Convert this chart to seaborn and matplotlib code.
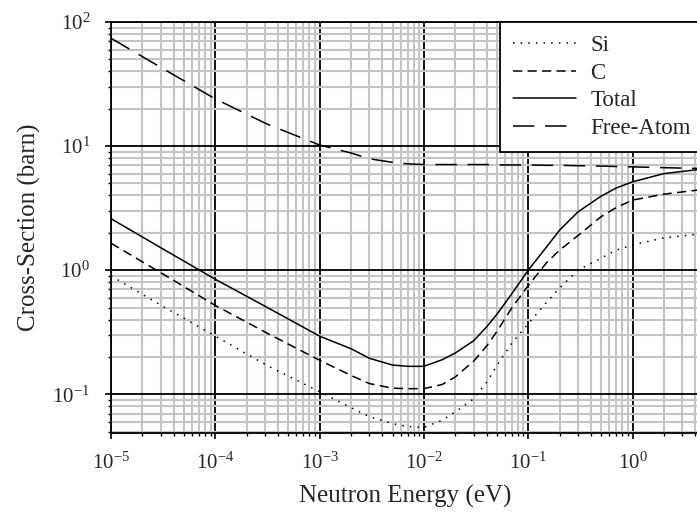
import numpy as np
import pandas as pd
import matplotlib
matplotlib.use("Agg")
import matplotlib.pyplot as plt
import seaborn as sns
from matplotlib.ticker import LogLocator, LogFormatterMathtext, NullFormatter

# values (barn)
energy = [1e-5, 3.16e-5, 1e-4, 3.16e-4, 1e-3, 2e-3, 3e-3, 5e-3, 7e-3, 1e-2,
          1.5e-2, 2e-2, 3e-2, 4e-2, 5e-2, 7e-2, 0.1, 0.15, 0.2, 0.3, 0.5, 0.7,
          1.0, 2.0, 4.5]
si = [0.9, 0.51, 0.294, 0.17, 0.105, 0.078, 0.066, 0.058, 0.055, 0.054,
      0.062, 0.072, 0.092, 0.125, 0.17, 0.26, 0.37, 0.55, 0.72, 1.0, 1.25, 1.45,
      1.6, 1.82, 1.96]
c = [1.65, 0.93, 0.52, 0.31, 0.188, 0.142, 0.122, 0.112, 0.111, 0.111,
     0.12, 0.138, 0.185, 0.245, 0.32, 0.5, 0.75, 1.15, 1.45, 1.9, 2.7, 3.2,
     3.67, 4.1, 4.45]
total = [2.6, 1.48, 0.845, 0.5, 0.294, 0.233, 0.195, 0.172, 0.168, 0.168,
         0.19, 0.215, 0.27, 0.35, 0.44, 0.65, 1.0, 1.54, 2.1, 2.95, 3.95, 4.6,
         5.15, 6.0, 6.5]
free_atom = [74, 42, 24, 15, 10.2, 8.8, 7.9, 7.4, 7.2, 7.1,
             7.1, 7.1, 7.1, 7.1, 7.05, 7.05, 7.05, 7.0, 7.0, 6.95, 6.9, 6.85,
             6.8, 6.7, 6.6]

sns.set_style("ticks")
plt.rcParams["font.family"] = ["Liberation Serif", "DejaVu Serif"]
plt.rcParams["mathtext.fontset"] = "custom"
plt.rcParams["mathtext.rm"] = "Liberation Serif"
plt.rcParams["mathtext.it"] = "Liberation Serif:italic"
plt.rcParams["mathtext.bf"] = "Liberation Serif:bold"

fig = plt.figure(figsize=(6.97, 5.21), dpi=100)
ax = fig.add_axes([111 / 697, 1 - 433 / 521, (700 - 111) / 697, (433 - 22) / 521])

sns.lineplot(x=energy, y=si, ax=ax, color="k", lw=1.1, label="Si")
sns.lineplot(x=energy, y=c, ax=ax, color="k", lw=1.1, label="C")
sns.lineplot(x=energy, y=total, ax=ax, color="k", lw=1.1, label="Total")
sns.lineplot(x=energy, y=free_atom, ax=ax, color="k", lw=1.1, label="Free-Atom")
lines = ax.get_lines()
lines[0].set_dashes((1, 4))
lines[1].set_dashes((6, 3.5))
lines[3].set_dashes((14, 7))

ax.set_xscale("log")
ax.set_yscale("log")
ax.set_xlim(1e-5, 10 ** (-5 + (700 - 111) / 104.3))
ax.set_ylim(10 ** -1.312, 100)

ax.xaxis.set_major_locator(LogLocator(base=10, numticks=20))
ax.xaxis.set_minor_locator(LogLocator(base=10, subs=np.arange(2, 10), numticks=20))
ax.yaxis.set_major_locator(LogLocator(base=10, numticks=20))
ax.yaxis.set_minor_locator(LogLocator(base=10, subs=np.arange(2, 10), numticks=20))
ax.xaxis.set_major_formatter(LogFormatterMathtext())
ax.yaxis.set_major_formatter(LogFormatterMathtext())
ax.xaxis.set_minor_formatter(NullFormatter())
ax.yaxis.set_minor_formatter(NullFormatter())

ax.grid(which="minor", color="#c4c4c4", lw=1.5)
ax.grid(which="major", color="k", lw=1.3)
ax.set_axisbelow(True)
for s in ax.spines.values():
    s.set_linewidth(1.3)
    s.set_color("k")

ax.tick_params(axis="both", which="major", direction="out", length=4, width=1.2,
               labelsize=15, color="k")
ax.tick_params(axis="both", which="minor", direction="out", length=2.5, width=1,
               color="k")
ax.tick_params(axis="x", which="major", pad=10)
ax.tick_params(axis="y", which="major", pad=11)

ax.set_xlabel("Neutron Energy (eV)", fontsize=18, labelpad=8)
ax.set_ylabel("Cross-Section (barn)", fontsize=18, labelpad=8)

leg = ax.legend(loc="upper left", bbox_to_anchor=((500 - 111) / (700 - 111), 1.0),
                borderaxespad=0, fontsize=16.5, frameon=True, fancybox=False,
                framealpha=1, edgecolor="k", handlelength=2.75,
                handletextpad=0.65, labelspacing=0.3, borderpad=0.55)
leg.get_frame().set_linewidth(1.3)

fig.savefig("out.png", dpi=100)
